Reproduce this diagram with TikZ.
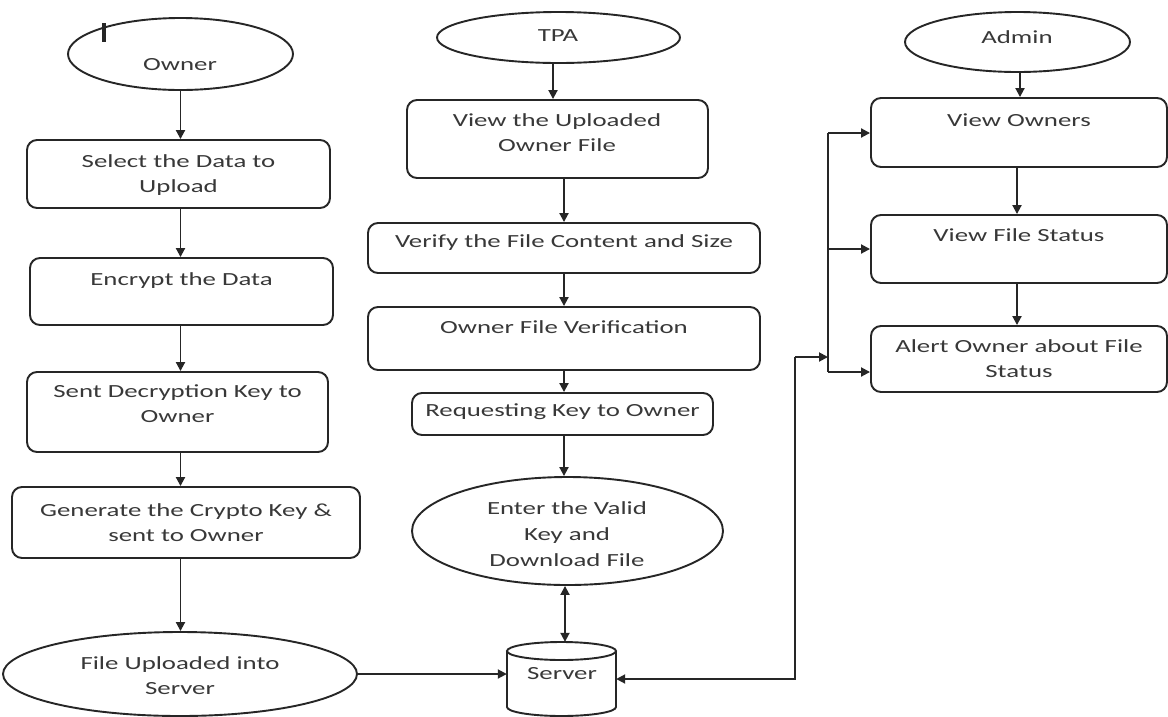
\documentclass[tikz,border=0pt]{standalone}
\usepackage{fontspec}
\setmainfont{Carlito}[FakeStretch=1.45]
\usetikzlibrary{shapes.geometric,arrows.meta,calc}
\begin{document}
\begin{tikzpicture}[x=1pt,y=-1pt,
 line/.style={draw=black!85, line width=1.9pt},
 arr/.style={line, -{Triangle[length=9pt,width=9pt]}},
 darr/.style={line, {Triangle[length=9pt,width=9pt]}-{Triangle[length=9pt,width=9pt]}},
 box/.style={line, rounded corners=10pt, fill=white, inner sep=0pt},
 oval/.style={line, ellipse, fill=white, inner sep=0pt},
 txt/.style={text=black!78, font=\fontsize{18.5}{24.5}\selectfont, align=center, inner sep=0pt}]
\useasboundingbox (0,0) rectangle (1168,716);
\fill[white] (0,0) rectangle (1168,716);

% Owner column
\node[oval, minimum width=225pt, minimum height=72pt] (own) at (180.5,54) {};
\node[box, minimum width=303pt, minimum height=68pt] (sel) at (178.5,174) {};
\node[box, minimum width=303pt, minimum height=67pt] (enc) at (181.5,291.5) {};
\node[box, minimum width=301pt, minimum height=80pt] (dec) at (177.5,412) {};
\node[box, minimum width=348pt, minimum height=71pt] (gen) at (186,522.5) {};
\node[oval, minimum width=354pt, minimum height=84pt] (fu) at (180,674) {};

% TPA column
\node[oval, minimum width=243pt, minimum height=51pt] (tpa) at (558.5,37.5) {};
\node[box, minimum width=301pt, minimum height=78pt] (view) at (557.5,139) {};
\node[box, minimum width=392pt, minimum height=50pt] (ver) at (564,248) {};
\node[box, minimum width=392pt, minimum height=63pt] (ofv) at (564,338.5) {};
\node[box, minimum width=301pt, minimum height=42pt] (req) at (562.5,414) {};
\node[oval, minimum width=311pt, minimum height=108pt] (ent) at (567.5,531) {};

% Admin column
\node[oval, minimum width=225pt, minimum height=60pt] (adm) at (1017.5,42) {};
\node[box, minimum width=296pt, minimum height=69pt] (vo) at (1019,132.5) {};
\node[box, minimum width=296pt, minimum height=68pt] (vfs) at (1019,249) {};
\node[box, minimum width=296pt, minimum height=66pt] (al) at (1019,359) {};

% Server cylinder
\node[minimum width=109pt, minimum height=74pt, inner sep=0pt] (srv) at (561.5,679) {};
\draw[line, fill=white] (507,651) -- (507,707) arc[start angle=180, end angle=0, x radius=54.5, y radius=9] -- (616,651);
\draw[line, fill=white] (561.5,651) ellipse [x radius=54.5, y radius=9];

% Texts
\node[txt] (t0) at (180,65) {Owner};
\node[txt] (t1) at (178.5,175) {Select the Data to\\Upload};
\node[txt] (t2) at (181.5,281) {Encrypt the Data};
\node[txt] (t3) at (177.5,403.5) {Sent Decryption Key to\\Owner};
\node[txt] (t4) at (186,522.5) {Generate the Crypto Key \&\\sent to Owner};
\node[txt] (t5) at (180,675.5) {File Uploaded into\\Server};
\node[txt] (t6) at (558,36) {TPA};
\node[txt] (t7) at (557,132.5) {View the Uploaded\\Owner File};
\node[txt] (t8) at (564,243) {Verify the File Content and Size};
\node[txt] (t9) at (564,327) {Owner File Verification};
\node[txt] (t10) at (562.5,412) {Requesting Key to Owner};
\node[txt, font=\fontsize{18.5}{26}\selectfont] (t11) at (567,534) {Enter the Valid\\Key and\\Download File};
\node[txt] (t12) at (562,674) {Server};
\node[txt] (t13) at (1017,37) {Admin};
\node[txt] (t14) at (1019,120) {View Owners};
\node[txt] (t15) at (1019,235) {View File Status};
\node[txt] (t16) at (1019,358.5) {Alert Owner about File\\Status};

% cursor mark
\draw[line width=3.2pt, black!85] (104,23) -- (104,42);

% Owner arrows
\draw[arr] (own.south) -- (own.south |- sel.north);
\draw[arr] (sel.south -| own.south) -- (own.south |- enc.north);
\draw[arr] (enc.south -| own.south) -- (own.south |- dec.north);
\draw[arr] (dec.south -| own.south) -- (own.south |- gen.north);
\draw[arr] (gen.south -| own.south) -- (own.south |- fu.north);
\draw[arr] (fu.east) -- (fu.east -| srv.west);

% TPA arrows
\draw[arr] (tpa.south -| 553,0) -- (view.north -| 553,0);
\draw[arr] (view.south -| ver.north) -- (ver.north);
\draw[arr] (ver.south) -- (ofv.north);
\draw[arr] (ofv.south) -- (ofv.south |- req.north);
\draw[arr] (req.south -| ofv.south) -- (ofv.south |- ent.north);
\draw[darr] (ent.south -| 565,0) -- (srv.north -| 565,0);

% Admin arrows
\draw[arr] (adm.south -| 1020,0) -- (vo.north -| 1020,0);
\draw[arr] (vo.south -| 1017,0) -- (vfs.north -| 1017,0);
\draw[arr] (vfs.south -| 1017,0) -- (al.north -| 1017,0);

% Right connector bus
\coordinate (c1) at (795,357);
\coordinate (j) at (828,357);
\coordinate (btop) at (828,133);
\coordinate (bbot) at (828,372);
\draw[line] (btop) -- (bbot);
\draw[arr] (btop) -- (btop -| vo.west);
\draw[arr] (vfs.west -| j) -- (vfs.west);
\draw[arr] (bbot) -- (bbot -| al.west);
\draw[arr] (c1) -- (j);
\draw[arr] (c1) |- (srv.east);
\end{tikzpicture}
\end{document}
